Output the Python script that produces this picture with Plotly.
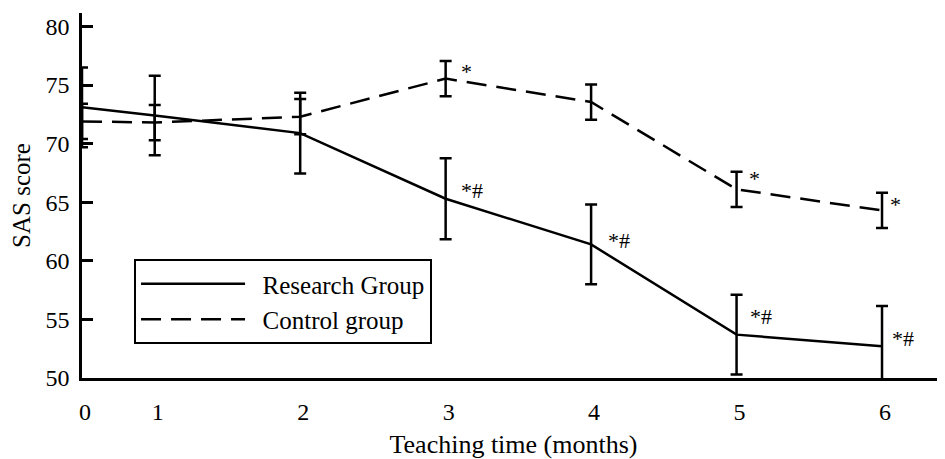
import plotly.graph_objects as go

# Data
month_labels = ["0", "1", "2", "3", "4", "5", "6"]
month_axis_pos = [0, 0.5, 1.5, 2.5, 3.5, 4.5, 5.5]   # non-uniform axis spacing of the original

research_mean = [73.1, 72.4, 70.9, 65.3, 61.4, 53.7, 52.7]
research_sd = [3.4, 3.4, 3.45, 3.45, 3.4, 3.4, 3.45]
control_mean = [71.9, 71.8, 72.3, 75.55, 73.55, 66.1, 64.3]
control_sd = [1.5, 1.5, 1.5, 1.5, 1.5, 1.5, 1.5]

research_marks = ["", "", "", "*#", "*#", "*#", "*#"]
control_marks = ["", "", "", "*", "", "*", "*"]

FONT = "Liberation Serif, Times New Roman, serif"
NB = "\u00a0\u00a0"

fig = go.Figure()
fig.add_trace(go.Scatter(
    x=month_axis_pos, y=research_mean, mode="lines", name=NB + "Research Group",
    line=dict(color="black", width=2.5),
    error_y=dict(type="data", array=research_sd, visible=True,
                 color="black", thickness=2.5, width=6),
    cliponaxis=False,
))
fig.add_trace(go.Scatter(
    x=month_axis_pos, y=control_mean, mode="lines", name=NB + "Control group",
    line=dict(color="black", width=2.5, dash="20px,10px"),
    error_y=dict(type="data", array=control_sd, visible=True,
                 color="black", thickness=2.5, width=6),
    cliponaxis=False,
))

shifts_r = {3: (13, 8), 4: (15, 4), 5: (11, 18), 6: (8, 8)}
shifts_c = {3: (13, 7), 5: (10, 11), 6: (6, 6)}
for i, t in enumerate(research_marks):
    if t:
        dx, dy = shifts_r[i]
        fig.add_annotation(x=month_axis_pos[i], y=research_mean[i], text=t,
                           showarrow=False, xanchor="left", yanchor="middle",
                           xshift=dx, yshift=dy,
                           font=dict(family=FONT, size=22, color="black"))
for i, t in enumerate(control_marks):
    if t:
        dx, dy = shifts_c[i]
        fig.add_annotation(x=month_axis_pos[i], y=control_mean[i], text=t,
                           showarrow=False, xanchor="left", yanchor="middle",
                           xshift=dx, yshift=dy,
                           font=dict(family=FONT, size=22, color="black"))

# page body has an 8px margin, so the figure is 8px smaller and margins shifted
fig.update_layout(
    width=937, height=451,
    margin=dict(l=74, r=0, t=5, b=81),
    paper_bgcolor="white", plot_bgcolor="white",
    font=dict(family=FONT, size=24, color="black"),
    showlegend=True,
    legend=dict(
        x=0.0603, y=0.326, xanchor="left", yanchor="top",
        bordercolor="black", borderwidth=2, bgcolor="white",
        font=dict(family=FONT, size=25, color="black"),
        itemwidth=104,
    ),
    xaxis=dict(
        range=[0, 5.933], tickmode="array", tickvals=month_axis_pos,
        ticktext=month_labels, showgrid=False, zeroline=False,
        showline=True, linecolor="black", linewidth=2.5, ticks="",
        ticklabelstandoff=10, ticklabelshift=3,
        tickfont=dict(family=FONT, size=24),
        title=dict(text="Teaching time (months)", standoff=14,
                   font=dict(family=FONT, size=26)),
    ),
    yaxis=dict(
        range=[50, 81.15], tickmode="array", tickvals=[50, 55, 60, 65, 70, 75, 80],
        showgrid=False, zeroline=False, showline=True, linecolor="black",
        linewidth=2.5, ticks="inside", ticklen=11, tickwidth=2.5, tickcolor="black",
        ticklabelstandoff=5, tickfont=dict(family=FONT, size=24),
        title=dict(text="SAS score", standoff=16, font=dict(family=FONT, size=25)),
    ),
)

fig.write_html("out.html")
